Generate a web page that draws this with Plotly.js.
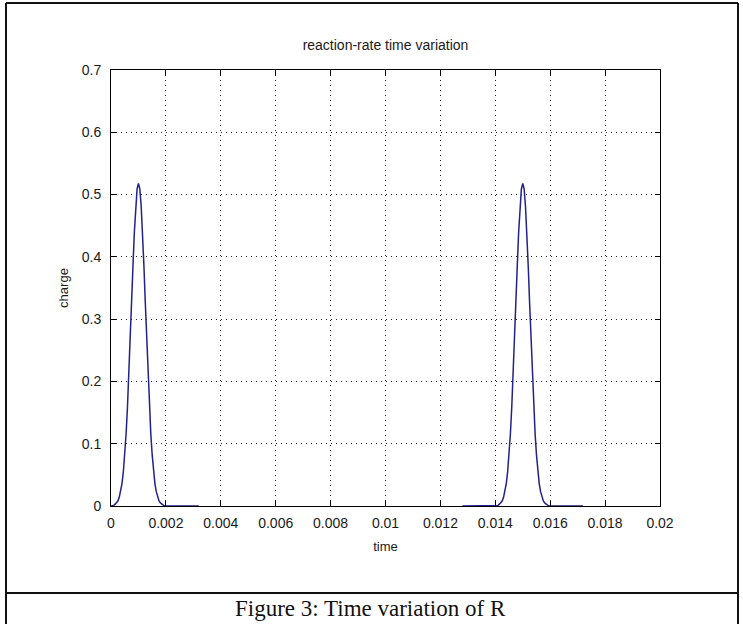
<!DOCTYPE html>
<html>
<head>
<meta charset="utf-8">
<script src="https://cdn.plot.ly/plotly-3.0.1.min.js"></script>
<style>html,body{margin:0;padding:0;background:#fff;}#chart{width:743px;height:624px;}</style>
</head>
<body>
<div id="chart"></div>
<script>
// first pulse
const time1 = [0, 0.00005, 0.0001, 0.00015, 0.0002, 0.00025, 0.0003, 0.00035, 0.0004, 0.00045,
  0.0005, 0.00055, 0.0006, 0.00065, 0.0007, 0.00075, 0.0008, 0.00085, 0.0009, 0.00095,
  0.001, 0.00105, 0.0011, 0.00115, 0.0012, 0.00125, 0.0013, 0.00135, 0.0014, 0.00145,
  0.0015, 0.00155, 0.0016, 0.00165, 0.0017, 0.00175, 0.0018, 0.00185, 0.0019, 0.00195,
  0.002, 0.0032];
const rate1 = [0, 0, 0.001, 0.003, 0.005, 0.008, 0.014, 0.023, 0.036, 0.055,
  0.082, 0.116, 0.159, 0.209, 0.266, 0.326, 0.385, 0.439, 0.481, 0.509,
  0.518, 0.509, 0.481, 0.439, 0.385, 0.326, 0.266, 0.209, 0.159, 0.116,
  0.082, 0.055, 0.036, 0.023, 0.014, 0.008, 0.005, 0.003, 0.001, 0,
  0, 0];
// second pulse
const time2 = [0.0128, 0.014, 0.01405, 0.0141, 0.01415, 0.0142, 0.01425, 0.0143, 0.01435, 0.0144, 0.01445,
  0.0145, 0.01455, 0.0146, 0.01465, 0.0147, 0.01475, 0.0148, 0.01485, 0.0149, 0.01495,
  0.015, 0.01505, 0.0151, 0.01515, 0.0152, 0.01525, 0.0153, 0.01535, 0.0154, 0.01545,
  0.0155, 0.01555, 0.0156, 0.01565, 0.0157, 0.01575, 0.0158, 0.01585, 0.0159, 0.01595,
  0.016, 0.0172];
const rate2 = [0, 0, 0, 0.001, 0.003, 0.005, 0.008, 0.014, 0.023, 0.036, 0.055,
  0.082, 0.116, 0.159, 0.209, 0.266, 0.326, 0.385, 0.439, 0.481, 0.509,
  0.518, 0.509, 0.481, 0.439, 0.385, 0.326, 0.266, 0.209, 0.159, 0.116,
  0.082, 0.055, 0.036, 0.023, 0.014, 0.008, 0.005, 0.003, 0.001, 0,
  0, 0];

const xTickVals = [0, 0.002, 0.004, 0.006, 0.008, 0.01, 0.012, 0.014, 0.016, 0.018, 0.02];
const xTickText = ['0', '0.002', '0.004', '0.006', '0.008', '0.01', '0.012', '0.014', '0.016', '0.018', '0.02'];
const yTickVals = [0, 0.1, 0.2, 0.3, 0.4, 0.5, 0.6, 0.7];
const yTickText = ['0', '0.1', '0.2', '0.3', '0.4', '0.5', '0.6', '0.7'];

const chartTitle = 'reaction-rate time variation';
const xLabel = 'time';
const yLabel = 'charge';
const caption = 'Figure 3: Time variation of R';

const lineStyle = {color: '#22228c', width: 1.5};
const traces = [
  {x: time1, y: rate1, type: 'scatter', mode: 'lines', line: lineStyle, showlegend: false, hoverinfo: 'skip'},
  {x: time2, y: rate2, type: 'scatter', mode: 'lines', line: lineStyle, showlegend: false, hoverinfo: 'skip'}
];

// plot area: x 111..660, y 70..506
const L = 111, R = 660, T = 70, B = 506, W = 743, H = 624;
const px = v => (v - L) / (R - L);
const py = v => (B - v) / (B - T);

const tickFont = {family: 'Liberation Sans, Arial, sans-serif', size: 14, color: '#1a1a1a'};
const labelFont = {family: 'Liberation Sans, Arial, sans-serif', size: 13, color: '#1a1a1a'};
const axisCommon = {
  showline: true, linecolor: '#000', linewidth: 1, mirror: 'ticks',
  ticks: 'inside', ticklen: 5, tickcolor: '#000', tickwidth: 1,
  showgrid: true, gridcolor: '#222', gridwidth: 1, griddash: '1px,4px',
  zeroline: false, tickfont: tickFont, fixedrange: true
};

const frameLine = {color: '#111', width: 2};
const layout = {
  width: W, height: H,
  margin: {l: L, r: W - R, t: T, b: H - B, pad: 0},
  paper_bgcolor: '#fff', plot_bgcolor: '#fff',
  title: {text: chartTitle, font: {family: 'Liberation Sans, Arial, sans-serif', size: 14, color: '#1a1a1a'},
          x: 0.5, xref: 'paper', xanchor: 'center', y: 1 - 45 / H, yref: 'container', yanchor: 'middle'},
  xaxis: Object.assign({}, axisCommon, {range: [0, 0.02], tickvals: xTickVals, ticktext: xTickText,
          ticklabelstandoff: 4,
          title: {text: xLabel, font: labelFont, standoff: 12}}),
  yaxis: Object.assign({}, axisCommon, {range: [0, 0.7], tickvals: yTickVals, ticktext: yTickText,
          ticklabelstandoff: 6,
          title: {text: yLabel, font: labelFont, standoff: 10}}),
  shapes: [
    {type: 'line', xref: 'paper', yref: 'paper', x0: px(6), x1: px(6), y0: py(3), y1: py(626), line: frameLine},
    {type: 'line', xref: 'paper', yref: 'paper', x0: px(738), x1: px(738), y0: py(3), y1: py(626), line: frameLine},
    {type: 'line', xref: 'paper', yref: 'paper', x0: px(6), x1: px(738), y0: py(3), y1: py(3), line: frameLine},
    {type: 'line', xref: 'paper', yref: 'paper', x0: px(6), x1: px(738), y0: py(593), y1: py(593), line: frameLine}
  ],
  annotations: [
    {text: caption, xref: 'paper', yref: 'paper', x: px(370), y: py(608), xanchor: 'center', yanchor: 'middle',
     showarrow: false, font: {family: 'Liberation Serif, Times New Roman, serif', size: 23, color: '#111'}}
  ]
};

Plotly.newPlot('chart', traces, layout, {staticPlot: true, displayModeBar: false});
</script>
</body>
</html>
